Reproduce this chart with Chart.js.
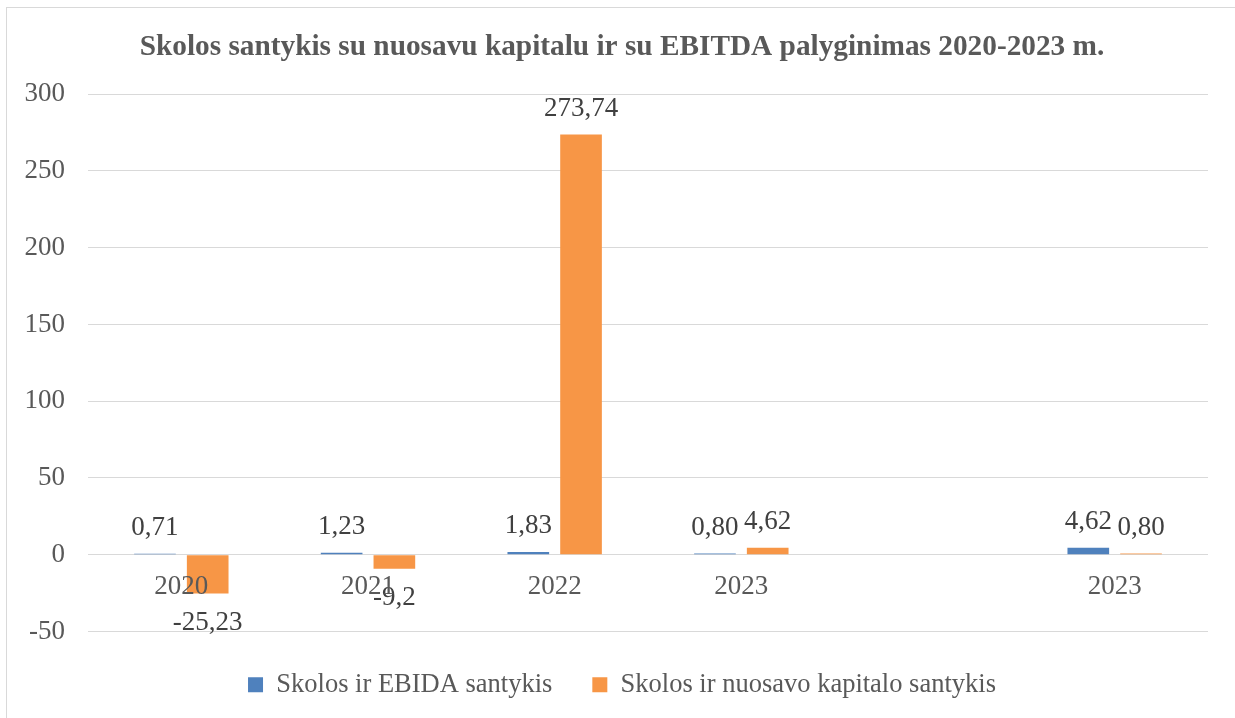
<!DOCTYPE html>
<html>
<head>
<meta charset="utf-8">
<script src="https://cdn.jsdelivr.net/npm/chart.js@4"></script>
<style>
  html, body { margin: 0; padding: 0; background: #fff; }
  #wrap { width: 1235px; height: 718px; position: relative; }
</style>
</head>
<body>
<div id="wrap"><canvas id="chart"></canvas></div>
<script>
/* data */
const categories = ['2020', '2021', '2022', '2023', '', '2023'];
const ebidaValues = [0.71, 1.23, 1.83, 0.80, null, 4.62];
const capitalValues = [-25.23, -9.2, 273.74, 4.62, null, 0.80];
const ebidaLabels = ['0,71', '1,23', '1,83', '0,80', '', '4,62'];
const capitalLabels = ['-25,23', '-9,2', '273,74', '4,62', '', '0,80'];
const yTicks = [300, 250, 200, 150, 100, 50, 0, -50];

const serif = "'Liberation Serif', 'Times New Roman', serif";

/* border round the chart */
const frame = {
    id: 'frame',
    beforeDraw(chart) {
        const c = chart.ctx;
        c.save();
        c.fillStyle = '#fff';
        c.fillRect(0, 0, chart.width, chart.height);
        c.strokeStyle = '#d9d9d9';
        c.lineWidth = 1;
        c.strokeRect(6.5, 7.5, chart.width, chart.height);
        c.restore();
    }
};

/* value labels and category names at the zero line */
const labelsPlugin = {
    id: 'labelsPlugin',
    afterDatasetsDraw(chart) {
        const c = chart.ctx;
        const texts = [ebidaLabels, capitalLabels];
        c.save();
        c.font = '27px ' + serif;
        c.textAlign = 'center';
        c.textBaseline = 'middle';
        c.fillStyle = '#404040';
        chart.data.datasets.forEach(function(ds, i) {
            const meta = chart.getDatasetMeta(i);
            meta.data.forEach(function(bar, j) {
                const v = ds.data[j];
                if (v === null) return;
                const y = v >= 0 ? bar.y - 26 : bar.y + 29;
                c.fillText(texts[i][j], bar.x, y);
            });
        });
        const zero = chart.scales.y.getPixelForValue(0);
        c.fillStyle = '#595959';
        categories.forEach(function(cat, j) {
            c.fillText(cat, chart.scales.x.getPixelForValue(j), zero + 32);
        });
        c.restore();
    }
};

const ctx = document.querySelector('#chart').getContext('2d');
const chart = new Chart(ctx, {
    type: 'bar',
    data: {
        labels: categories,
        datasets: [{
            label: 'Skolos ir EBIDA santykis',
            data: ebidaValues,
            backgroundColor: '#4f81bd'
        },
        {
            label: 'Skolos ir nuosavo kapitalo santykis',
            data: capitalValues,
            backgroundColor: '#f79646'
        }]
    },
    options: {
        responsive: true,
        maintainAspectRatio: false,
        animation: false,
        layout: {
            padding: { left: 9, right: 0, top: 0, bottom: 10 }
        },
        datasets: {
            bar: {
                categoryPercentage: 0.565,
                barPercentage: 0.79
            }
        },
        plugins: {
            title: {
                display: true,
                text: 'Skolos santykis su nuosavu kapitalu ir su EBITDA palyginimas 2020-2023 m.',
                color: '#595959',
                font: { family: serif, size: 29.3, weight: 'bold' },
                padding: { top: 30, bottom: 29 }
            },
            legend: {
                display: true,
                position: 'bottom',
                labels: {
                    color: '#595959',
                    font: { family: serif, size: 26.5 },
                    boxWidth: 15,
                    boxHeight: 15,
                    padding: 40
                }
            },
            tooltip: { enabled: false }
        },
        scales: {
            x: {
                display: false
            },
            y: {
                min: -50,
                max: 300,
                afterFit: function(scale) { scale.width = 79; },
                afterBuildTicks: function(scale) {
                    scale.ticks = yTicks.map(function(v) { return { value: v }; });
                },
                border: { display: false },
                grid: {
                    color: '#d9d9d9',
                    drawTicks: false
                },
                ticks: {
                    color: '#595959',
                    font: { family: serif, size: 27 },
                    padding: 23
                }
            },
            yRight: {
                position: 'right',
                min: -50,
                max: 300,
                afterFit: function(scale) { scale.width = 27; },
                border: { display: false },
                grid: { display: false },
                ticks: { display: false }
            }
        }
    },
    plugins: [frame, labelsPlugin]
});
</script>
</body>
</html>
